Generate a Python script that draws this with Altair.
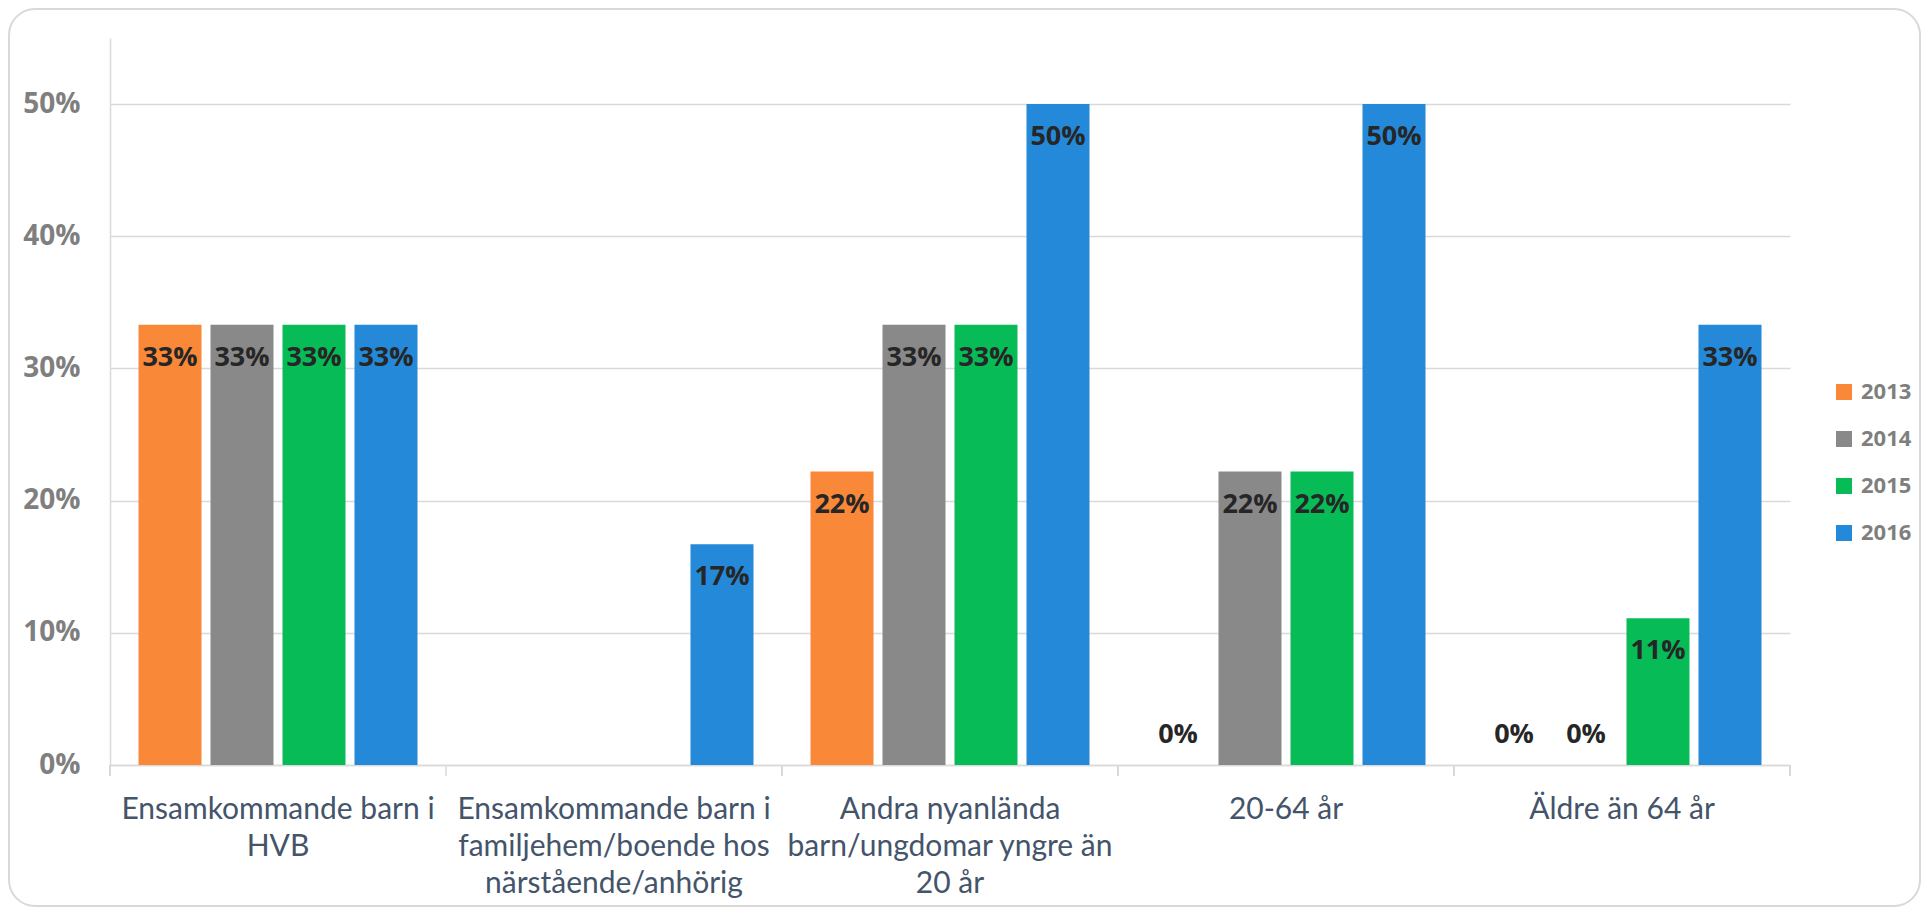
import altair as alt
import pandas as pd

categories = [
    "Ensamkommande barn i\nHVB",
    "Ensamkommande barn i\nfamiljehem/boende hos\nnärstående/anhörig",
    "Andra nyanlända\nbarn/ungdomar yngre än\n20 år",
    "20-64 år",
    "Äldre än 64 år",
]
years = ["2013", "2014", "2015", "2016"]
colors = ["#F98839", "#898989", "#07BC57", "#2489D9"]

v2013 = [0.333, None, 0.222, 0.0, 0.0]
v2014 = [0.333, None, 0.333, 0.222, 0.0]
v2015 = [0.333, None, 0.333, 0.222, 0.111]
v2016 = [0.333, 0.167, 0.500, 0.500, 0.333]

rows = []
for yr, vals in zip(years, [v2013, v2014, v2015, v2016]):
    for c, v in zip(categories, vals):
        if v is not None:
            rows.append({"cat": c, "year": yr, "v": v})
df = pd.DataFrame(rows)

W, H = 1680, 727
base = alt.Chart(df)

x_enc = alt.X("cat:N", sort=categories, title=None,
              scale=alt.Scale(paddingInner=0, paddingOuter=0),
              axis=alt.Axis(labelExpr="split(datum.label, '\\n')", labelAngle=0,
                            labelFont="Lato", labelFontSize=30, labelColor="#44546A",
                            labelLineHeight=37, labelPadding=29, ticks=False,
                            domainColor="#D9D9D9", domainWidth=1.5, labelLimit=400))
xo_enc = alt.XOffset("year:N", sort=years,
                     scale=alt.Scale(paddingInner=0.125, paddingOuter=0.396))
y_enc = alt.Y("v:Q", title=None,
              scale=alt.Scale(domain=[0, 0.55], nice=False),
              axis=alt.Axis(values=[0, 0.1, 0.2, 0.3, 0.4, 0.5], format=".0%",
                            labelFont="Open Sans", labelFontSize=28, labelFontWeight="bold",
                            labelColor="#7F7F7F", labelPadding=30, ticks=False,
                            gridColor="#D9D9D9", gridWidth=1.5,
                            domainColor="#D9D9D9", domainWidth=1.5))

frame = alt.Chart(pd.DataFrame({"a": [0]})).mark_rect(
    fillOpacity=0, stroke="#D9D9D9", strokeWidth=2, cornerRadius=26
).encode(x=alt.value(-101), x2=alt.value(1810), y=alt.value(-29), y2=alt.value(868))

bars = base.mark_bar().encode(
    x=x_enc, xOffset=xo_enc, y=y_enc,
    color=alt.Color("year:N", sort=years,
                    scale=alt.Scale(domain=years, range=colors),
                    legend=alt.Legend(title=None, orient="none", legendX=1723, legendY=343,
                                      symbolType="square", symbolSize=256, symbolStrokeWidth=0,
                                      labelFont="Open Sans", labelFontSize=22,
                                      labelFontWeight="bold", labelColor="#7F7F7F",
                                      labelOffset=6, rowPadding=25)),
)

ticks = base.mark_rule(color="#D9D9D9", strokeWidth=1.5).encode(
    x=alt.X("cat:N", sort=categories, bandPosition=0),
    y=alt.value(H), y2=alt.value(H + 11),
)
end_tick = base.transform_filter(alt.datum.cat == categories[-1]).mark_rule(
    color="#D9D9D9", strokeWidth=1.5).encode(
    x=alt.X("cat:N", sort=categories, bandPosition=1),
    y=alt.value(H), y2=alt.value(H + 11),
)

lab_style = dict(font="Open Sans", fontSize=27, fontWeight="bold", color="#262626")
labels_pos = base.transform_filter(alt.datum.v > 0).mark_text(dy=33, **lab_style).encode(
    x=alt.X("cat:N", sort=categories), xOffset=xo_enc, y="v:Q",
    text=alt.Text("v:Q", format=".0%"),
)
labels_zero = base.transform_filter(alt.datum.v == 0).mark_text(dy=-30, **lab_style).encode(
    x=alt.X("cat:N", sort=categories), xOffset=xo_enc, y="v:Q",
    text=alt.Text("v:Q", format=".0%"),
)

chart = alt.layer(bars, frame, ticks, end_tick, labels_pos, labels_zero).properties(
    width=W, height=H,
    padding={"left": 102, "top": 30, "right": 132, "bottom": 142},
    autosize=alt.AutoSizeParams(type="none"),
).configure_view(stroke=None)

chart.save("out.html", embed_options={"renderer": "svg", "actions": False})
